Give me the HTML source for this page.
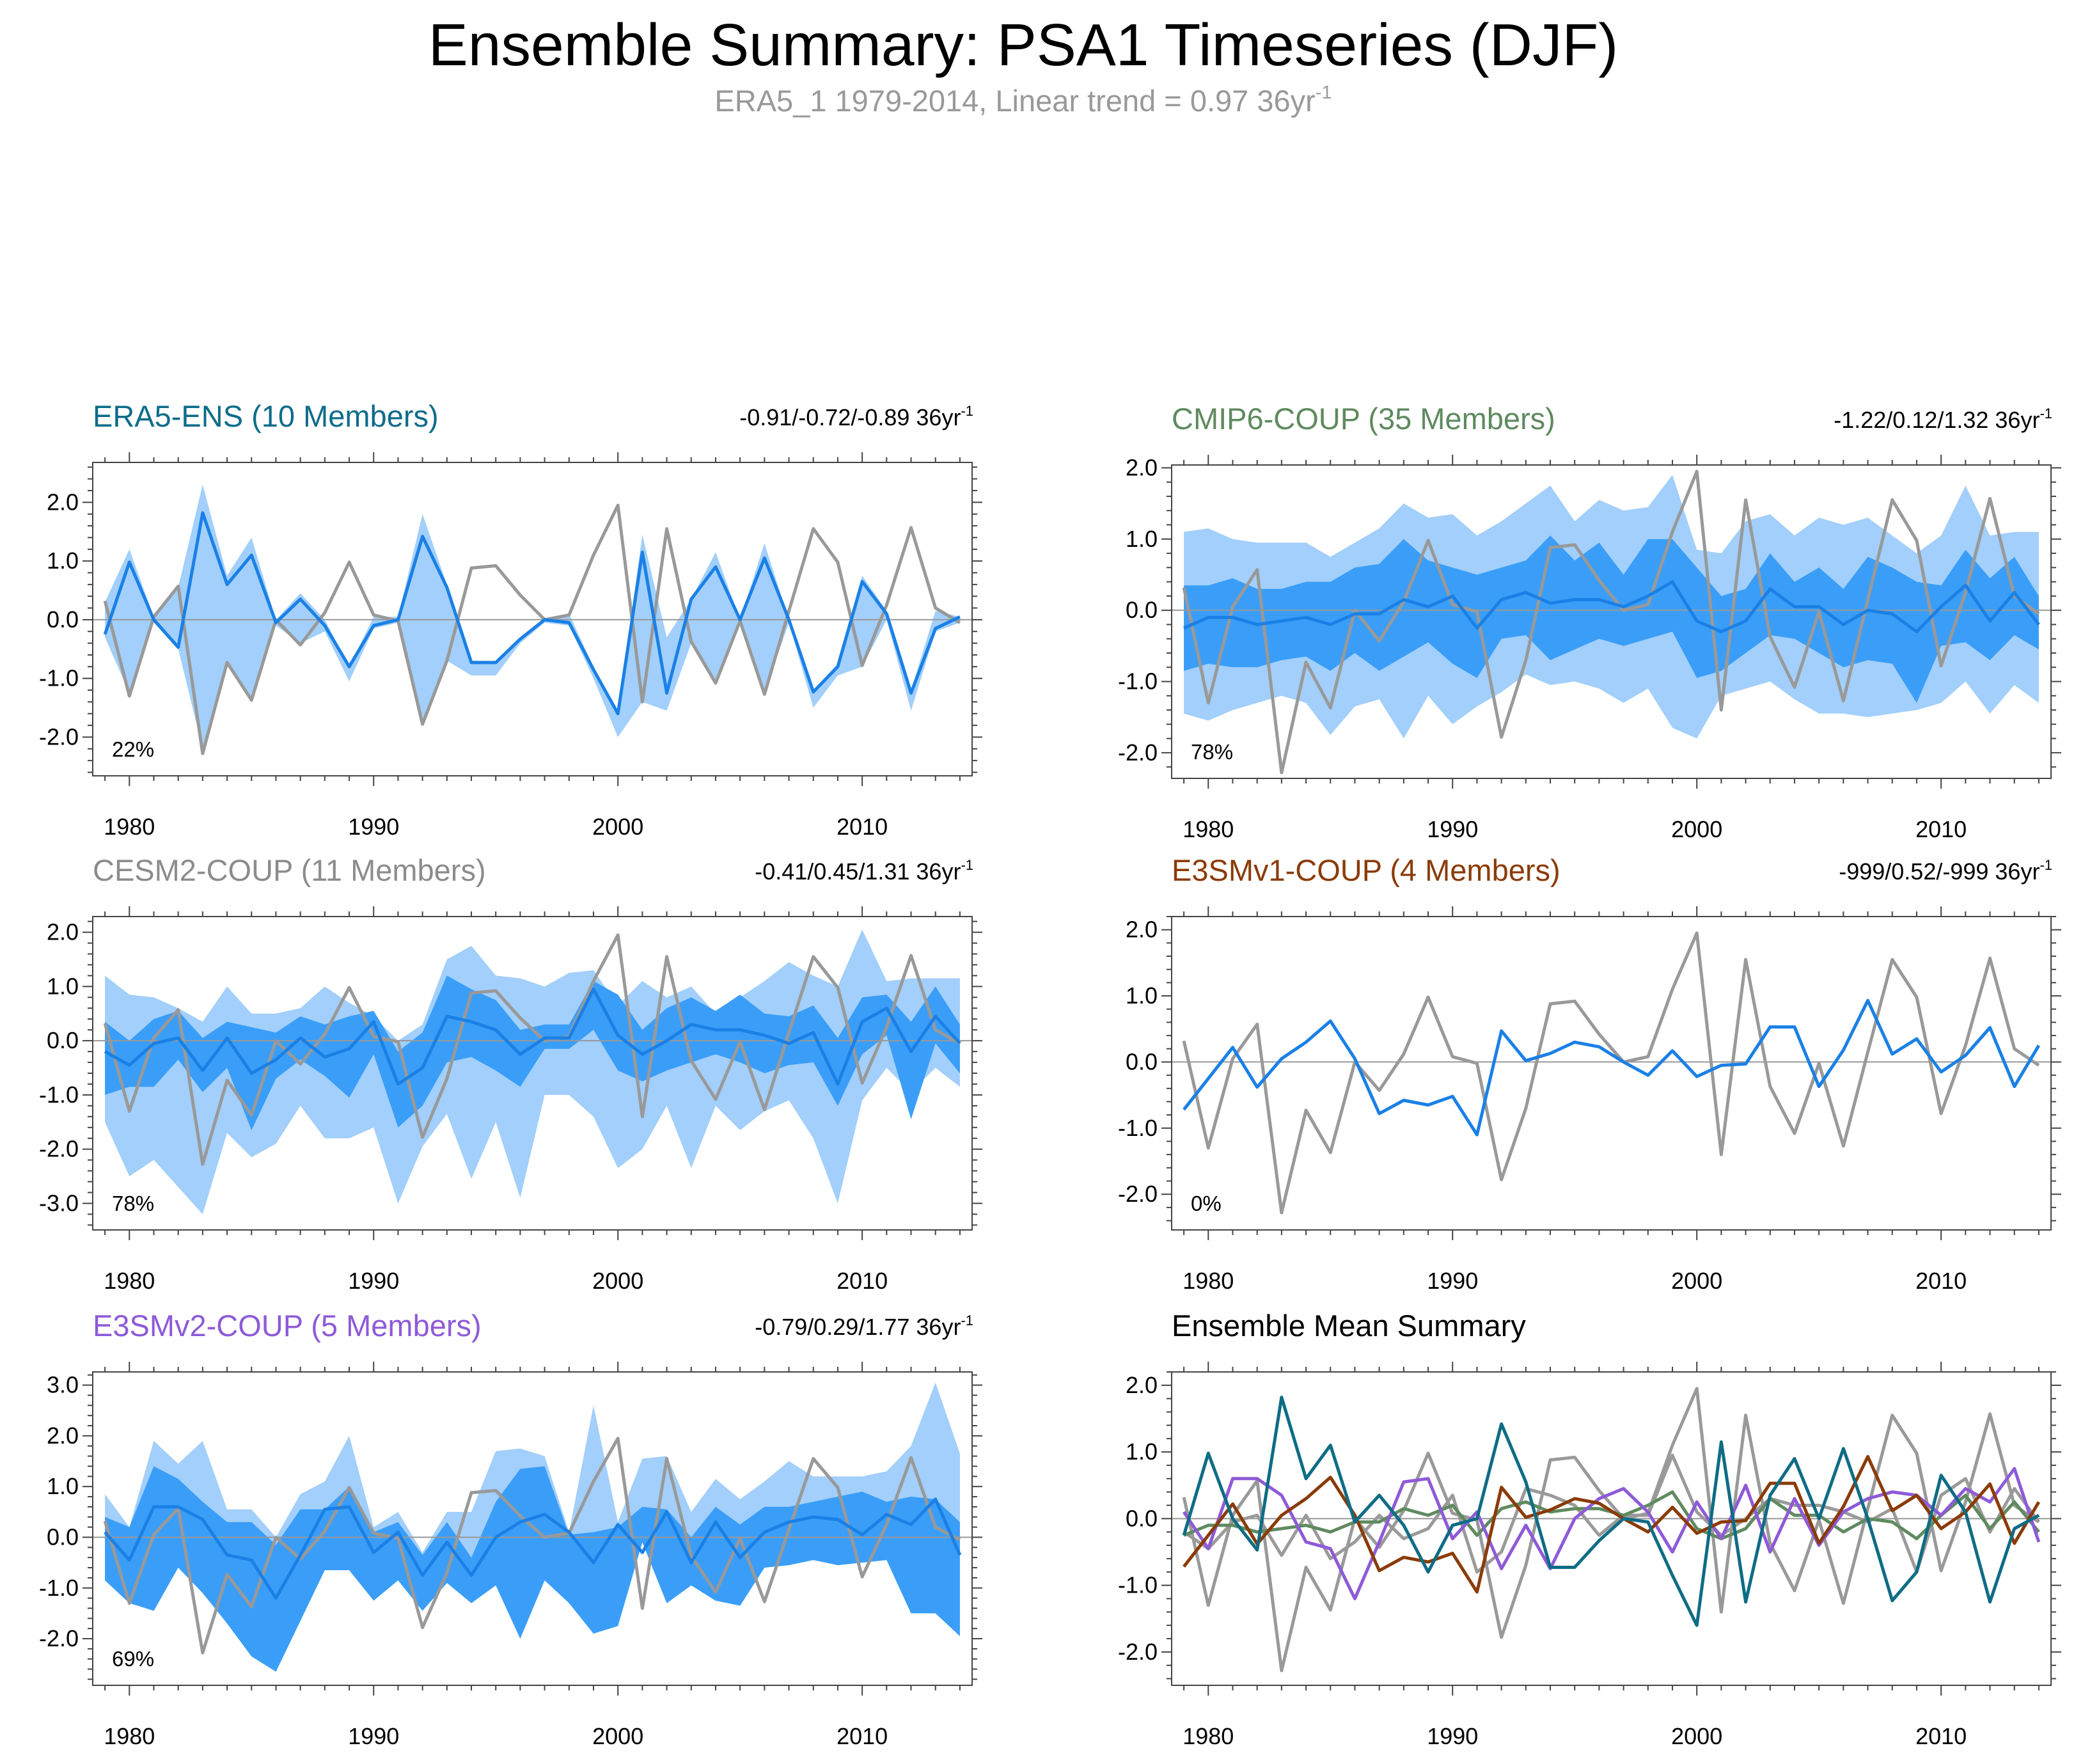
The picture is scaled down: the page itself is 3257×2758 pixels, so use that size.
<!DOCTYPE html>
<html><head><meta charset="utf-8">
<style>
html,body{margin:0;padding:0;background:#fff;}
svg{display:block;font-family:"Liberation Sans",sans-serif;}
</style></head>
<body>
<svg id="chart" width="3257" height="2758" viewBox="0 0 3257 2758" xmlns="http://www.w3.org/2000/svg">
<rect width="3257" height="2758" fill="#fff"/>
<text x="1600" y="102" font-size="93" text-anchor="middle" fill="#000">Ensemble Summary: PSA1 Timeseries (DJF)</text>
<text x="1600" y="174" font-size="47" text-anchor="middle" fill="#999">ERA5_1 1979-2014, Linear trend = 0.97 36yr<tspan font-size="29" dy="-20">-1</tspan></text>
</svg>
<script>
const years=[1979,1980,1981,1982,1983,1984,1985,1986,1987,1988,1989,1990,1991,1992,1993,1994,1995,1996,1997,1998,1999,2000,2001,2002,2003,2004,2005,2006,2007,2008,2009,2010,2011,2012,2013,2014];
const xTicks=[1980,1990,2000,2010];
const obs=[0.32,-1.3,0.05,0.57,-2.28,-0.73,-1.37,0.0,-0.43,0.12,0.98,0.08,-0.02,-1.78,-0.7,0.88,0.92,0.42,0.0,0.08,1.1,1.95,-1.4,1.55,-0.37,-1.08,-0.02,-1.27,0.15,1.55,0.98,-0.78,0.25,1.57,0.2,-0.05];
const eraMean=[-0.25,0.98,0.0,-0.47,1.82,0.6,1.1,-0.05,0.35,-0.1,-0.8,-0.1,0.0,1.42,0.55,-0.73,-0.73,-0.33,0.0,-0.05,-0.85,-1.6,1.15,-1.25,0.35,0.9,0.0,1.05,0.0,-1.23,-0.8,0.65,0.1,-1.25,-0.15,0.05];
const eraHi=[0.3,1.2,0.05,0.55,2.3,0.75,1.4,0.0,0.45,0.0,-0.8,0.05,0.05,1.8,0.6,-0.7,-0.7,-0.3,0.0,0.1,-0.8,-1.55,1.45,-0.3,0.35,1.15,0.0,1.3,0.0,-1.2,-0.75,0.75,0.15,-1.2,0.15,0.05];
const eraLo=[-0.3,-1.25,-0.05,-0.5,-2.2,-0.75,-1.35,-0.1,-0.4,-0.2,-1.05,-0.15,-0.05,-1.75,-0.7,-0.95,-0.95,-0.4,-0.05,-0.1,-1.0,-2.0,-1.4,-1.55,-0.4,-1.05,-0.05,-1.25,-0.05,-1.5,-0.95,-0.8,0.0,-1.55,-0.2,-0.05];
const cmipMean=[-0.25,-0.1,-0.1,-0.2,-0.15,-0.1,-0.2,-0.05,-0.05,0.15,0.05,0.2,-0.25,0.15,0.25,0.1,0.15,0.15,0.05,0.2,0.4,-0.15,-0.3,-0.15,0.3,0.05,0.05,-0.2,0.0,-0.05,-0.3,0.05,0.35,-0.15,0.25,-0.2];
const cmipHi=[1.1,1.15,1.0,0.95,0.95,0.95,0.75,0.95,1.15,1.5,1.3,1.35,1.05,1.25,1.5,1.75,1.25,1.55,1.4,1.45,1.9,0.85,0.8,1.25,1.35,1.05,1.3,1.2,1.3,1.05,0.8,1.05,1.75,1.05,1.1,1.1];
const cmipLo=[-1.45,-1.55,-1.4,-1.3,-1.2,-1.3,-1.75,-1.35,-1.25,-1.8,-1.2,-1.6,-1.35,-1.15,-0.9,-1.05,-1.0,-1.1,-1.3,-1.1,-1.65,-1.8,-1.2,-1.1,-1.0,-1.25,-1.45,-1.45,-1.5,-1.45,-1.4,-1.3,-1.0,-1.45,-1.05,-1.3];
const cmipIHi=[0.35,0.35,0.45,0.3,0.3,0.4,0.4,0.6,0.65,1.0,0.7,0.6,0.5,0.6,0.7,1.05,0.7,0.95,0.5,1.0,1.0,0.6,0.2,0.3,0.8,0.4,0.6,0.3,0.75,0.6,0.4,0.35,0.85,0.45,0.75,0.2];
const cmipILo=[-0.85,-0.75,-0.8,-0.8,-0.7,-0.65,-0.85,-0.6,-0.85,-0.65,-0.45,-0.75,-0.95,-0.4,-0.35,-0.7,-0.55,-0.4,-0.5,-0.4,-0.3,-0.95,-0.85,-0.6,-0.35,-0.4,-0.6,-0.8,-0.7,-0.75,-1.3,-0.5,-0.45,-0.7,-0.35,-0.55];
const cesmMean=[-0.2,-0.45,-0.05,0.05,-0.55,0.05,-0.6,-0.35,0.05,-0.3,-0.15,0.35,-0.8,-0.5,0.45,0.35,0.2,-0.25,0.05,0.05,0.95,0.1,-0.25,0.0,0.3,0.2,0.2,0.1,-0.05,0.15,-0.8,0.35,0.6,-0.2,0.45,-0.05];
const cesmHi=[1.2,0.85,0.8,0.6,0.35,1.0,0.5,0.5,0.6,1.0,0.7,0.45,0.0,0.3,1.5,1.75,1.2,1.15,1.0,1.25,1.3,0.65,1.1,0.8,1.0,0.5,0.8,1.1,1.45,1.2,1.0,2.05,1.1,1.15,1.15,1.15];
const cesmLo=[-1.5,-2.5,-2.2,-2.7,-3.2,-1.7,-2.15,-1.9,-1.2,-1.8,-1.8,-1.6,-3.0,-1.95,-1.35,-2.55,-1.5,-2.9,-1.0,-1.0,-1.4,-2.35,-2.0,-1.2,-2.35,-1.2,-1.65,-1.3,-1.1,-1.8,-3.0,-1.1,-0.5,-0.95,-0.5,-0.85];
const cesmIHi=[0.35,0.0,0.4,0.55,0.05,0.35,0.25,0.15,0.45,0.3,0.45,0.55,-0.2,0.15,1.2,0.95,0.75,0.2,0.3,0.3,1.1,0.85,0.2,0.6,0.8,0.55,0.85,0.5,0.45,0.65,0.05,0.8,0.85,0.35,1.0,0.3];
const cesmILo=[-1.0,-0.85,-0.85,-0.35,-0.95,-0.5,-1.65,-0.7,-0.35,-0.65,-1.05,-0.25,-1.6,-1.2,-0.4,-0.3,-0.55,-0.85,-0.15,-0.15,0.2,-0.55,-0.75,-0.55,-0.4,-0.25,-0.4,-0.6,-0.45,-0.4,-1.2,-0.25,0.1,-1.45,-0.05,-0.6];
const v1Mean=[-0.72,-0.25,0.22,-0.38,0.05,0.3,0.62,0.05,-0.78,-0.58,-0.65,-0.52,-1.1,0.47,0.02,0.13,0.3,0.23,0.0,-0.2,0.17,-0.22,-0.05,-0.03,0.53,0.53,-0.37,0.18,0.93,0.12,0.35,-0.15,0.1,0.52,-0.37,0.25];
const v2Mean=[0.1,-0.45,0.6,0.6,0.35,-0.35,-0.45,-1.2,-0.35,0.55,0.6,-0.3,0.1,-0.75,-0.1,-0.75,0.0,0.3,0.45,0.1,-0.5,0.25,-0.3,0.5,-0.5,0.3,-0.4,0.1,0.3,0.4,0.35,0.05,0.45,0.25,0.75,-0.35];
const v2Hi=[0.85,0.2,1.9,1.45,1.9,0.55,0.55,0.0,0.85,1.1,2.0,0.2,0.5,-0.3,0.5,0.5,1.7,1.75,1.6,0.1,2.6,0.3,1.55,1.6,0.5,1.15,0.75,1.1,1.5,1.2,1.2,1.2,1.3,1.8,3.05,1.65];
const v2Lo=[-0.85,-1.3,-1.4,-0.6,-1.0,-1.7,-2.35,-2.65,-1.65,-0.6,-0.6,-1.25,-0.85,-1.45,-0.9,-1.3,-0.95,-2.0,-0.85,-1.3,-1.9,-1.75,-0.1,-1.3,-0.95,-1.25,-1.35,-0.6,-0.55,-0.45,-0.55,-0.5,-0.45,-1.5,-1.5,-1.95];
const v2IHi=[0.4,0.2,1.4,1.15,0.7,0.3,0.3,-0.15,0.55,0.55,1.0,0.1,0.3,-0.35,0.3,-0.4,0.7,1.35,1.4,0.05,0.1,0.2,0.6,0.55,0.0,0.6,0.25,0.6,0.6,0.7,0.8,0.9,0.7,0.8,0.75,0.3];
const v2ILo=[-0.85,-1.3,-1.45,-0.6,-1.1,-1.7,-2.35,-2.65,-1.65,-0.65,-0.65,-1.25,-0.85,-1.45,-0.9,-1.3,-0.95,-2.0,-0.85,-1.3,-1.9,-1.75,-0.1,-1.3,-0.95,-1.25,-1.35,-0.6,-0.55,-0.45,-0.55,-0.5,-0.45,-1.5,-1.5,-1.95];

const svg=document.getElementById('chart');
const NS='http://www.w3.org/2000/svg';
function mk(tag,attrs,parent){const e=document.createElementNS(NS,tag);for(const k in attrs)e.setAttribute(k,attrs[k]);(parent||svg).appendChild(e);return e;}

const panels=[
 {name:'era5-ens',x:145,y:723,ymin:-2.66,ymax:2.68,ticks:[-2,-1,0,1,2],title:'ERA5-ENS (10 Members)',tc:'#0e6c8a',trend:'-0.91/-0.72/-0.89 36yr',pct:'22%',mean:eraMean,hi:eraHi,lo:eraLo},
 {name:'cmip6-coup',x:1832,y:727,ymin:-2.36,ymax:2.04,ticks:[-2,-1,0,1,2],title:'CMIP6-COUP (35 Members)',tc:'#5f8a5f',trend:'-1.22/0.12/1.32 36yr',pct:'78%',mean:cmipMean,hi:cmipHi,lo:cmipLo,ihi:cmipIHi,ilo:cmipILo},
 {name:'cesm2-coup',x:145,y:1433,ymin:-3.49,ymax:2.29,ticks:[-3,-2,-1,0,1,2],title:'CESM2-COUP (11 Members)',tc:'#8c8c8c',trend:'-0.41/0.45/1.31 36yr',pct:'78%',mean:cesmMean,hi:cesmHi,lo:cesmLo,ihi:cesmIHi,ilo:cesmILo},
 {name:'e3smv1-coup',x:1832,y:1433,ymin:-2.54,ymax:2.2,ticks:[-2,-1,0,1,2],title:'E3SMv1-COUP (4 Members)',tc:'#8a3b08',trend:'-999/0.52/-999 36yr',pct:'0%',mean:v1Mean},
 {name:'e3smv2-coup',x:145,y:2145,ymin:-2.92,ymax:3.26,ticks:[-2,-1,0,1,2,3],title:'E3SMv2-COUP (5 Members)',tc:'#8e5ad8',trend:'-0.79/0.29/1.77 36yr',pct:'69%',mean:v2Mean,hi:v2Hi,lo:v2Lo,ihi:v2IHi,ilo:v2ILo},
 {name:'ensemble-mean-summary',x:1832,y:2145,ymin:-2.5,ymax:2.2,ticks:[-2,-1,0,1,2],title:'Ensemble Mean Summary',tc:'#000',summary:true}
];
const W=1375,H=490;

panels.forEach((p,pi)=>{
 const g=mk('g',{});
 
 
 const sx=yr=>p.x+(yr-1978.5)/36*W;
 const sy=v=>p.y+(p.ymax-v)/(p.ymax-p.ymin)*H;
 const cp=mk('clipPath',{id:'clip'+pi},g);
 mk('rect',{x:p.x,y:p.y,width:W,height:H},cp);
 const pg=mk('g',{'clip-path':'url(#clip'+pi+')'},g);
 function band(hi,lo,fill,nm){
  let pts=years.map((yr,i)=>sx(yr)+','+sy(hi[i]));
  for(let i=years.length-1;i>=0;i--)pts.push(sx(years[i])+','+sy(lo[i]));
  const e=mk('polygon',{points:pts.join(' '),fill:fill},pg);
  
  
 }
 function line(arr,col,w,nm){
  const e=mk('polyline',{points:years.map((yr,i)=>sx(yr)+','+sy(arr[i])).join(' '),fill:'none',stroke:col,'stroke-width':w,'stroke-linejoin':'round'},pg);
  
  
 }
 if(p.hi)band(p.hi,p.lo,'#a2cffb','outer-spread-band');
 if(p.ihi)band(p.ihi,p.ilo,'#3a9ef8','inner-spread-band');
 const z=mk('line',{x1:p.x,x2:p.x+W,y1:sy(0),y2:sy(0),stroke:'#999','stroke-width':2},pg);
 
 
 if(p.summary){
  line(cesmMean,'#9a9a9a',5,'cesm2-mean-line');
  line(obs,'#999',5,'observed-line');
  line(cmipMean,'#5f8a5f',5,'cmip6-mean-line');
  line(v2Mean,'#8e5ad8',5,'e3smv2-mean-line');
  line(v1Mean,'#8a3b08',5,'e3smv1-mean-line');
  line(eraMean,'#0e6c85',5,'era5-mean-line');
 } else {
  line(obs,'#999',5,'observed-line');
  line(p.mean,'#1a80e6',5,'ensemble-mean-line');
 }
 const b=mk('rect',{x:p.x,y:p.y,width:W,height:H,fill:'none',stroke:'#444','stroke-width':2},g);
 
 
 for(let v=Math.ceil(p.ymin*5)/5;v<=p.ymax+1e-9;v+=0.2){
  const yy=sy(v);const maj=Math.abs(v-Math.round(v))<1e-6;const L=maj?16:8;
  mk('line',{x1:p.x-L,x2:p.x,y1:yy,y2:yy,stroke:'#444','stroke-width':2},g);
  mk('line',{x1:p.x+W,x2:p.x+W+L,y1:yy,y2:yy,stroke:'#444','stroke-width':2},g);
 }
 p.ticks.forEach(v=>{
  const t=mk('text',{x:p.x-22,y:sy(v)+12,'font-size':36,'text-anchor':'end',fill:'#000'},g);
  t.textContent=v.toFixed(1);
  
  
 });
 for(let yr=1979;yr<=2014;yr++){
  const xx=sx(yr);const maj=yr%10===0;const L=maj?16:8;
  mk('line',{x1:xx,x2:xx,y1:p.y+H,y2:p.y+H+L,stroke:'#444','stroke-width':2},g);
  mk('line',{x1:xx,x2:xx,y1:p.y-L,y2:p.y,stroke:'#444','stroke-width':2},g);
 }
 xTicks.forEach(yr=>{
  const t=mk('text',{x:sx(yr),y:p.y+H+92,'font-size':36,'text-anchor':'middle',fill:'#000'},g);
  t.textContent=yr;
  
  
 });
 const tt=mk('text',{x:p.x,y:p.y-56,'font-size':47,fill:p.tc},g);
 tt.textContent=p.title;
 
 
 if(p.trend){
  const tr=mk('text',{x:p.x+W+2,y:p.y-58,'font-size':36,'text-anchor':'end',fill:'#000'},g);
  tr.textContent=p.trend;
  const sp=mk('tspan',{'font-size':22,dy:-15},tr);sp.textContent='-1';
  
  
  const pc=mk('text',{x:p.x+30,y:p.y+H-30,'font-size':33,fill:'#000'},g);
  pc.textContent=p.pct;
  
  
 }
});
</script>
</body></html>
